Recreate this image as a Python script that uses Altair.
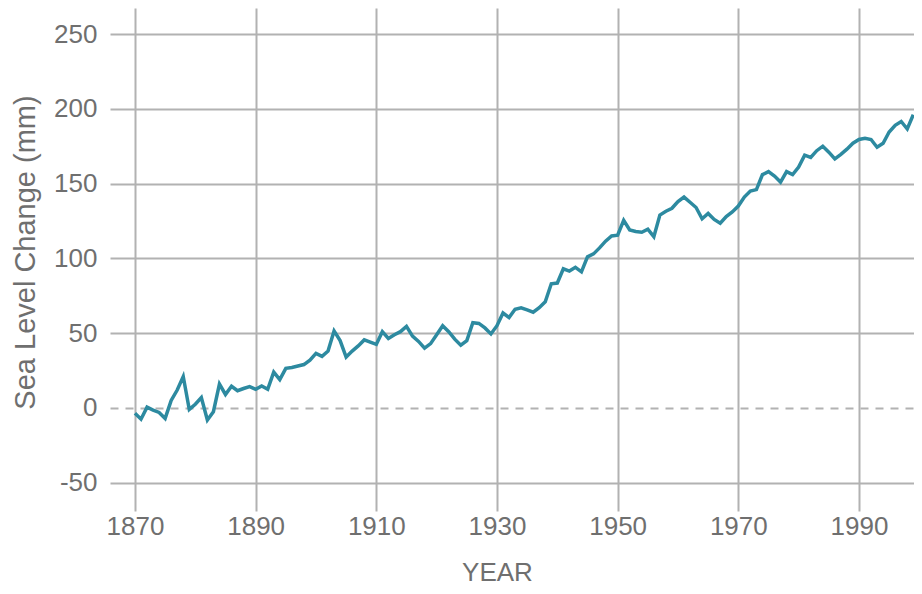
import altair as alt
import pandas as pd

years = list(range(1870, 2000))
sea_level = [
    # 1870s
    -3.5, -7.5, 0.5, -1.5, -3, -7, 5, 12, 21, -1,
    # 1880s
    2.5, 7, -8, -2.5, 16, 9, 14.5, 11.5, 13, 14.3,
    # 1890s
    12.5, 14.7, 12.5, 24, 19, 26.5, 27, 28, 29, 32,
    # 1900s
    36.5, 34.5, 38, 51.5, 45, 34, 38, 41.5, 45.5, 44,
    # 1910s
    42.5, 51, 46.5, 49, 51, 54.5, 48, 44.5, 40, 43,
    # 1920s
    49, 55, 51, 46, 42, 45, 57, 56.5, 53.5, 49.5,
    # 1930s
    55, 63.5, 60.5, 66, 67, 65.5, 64, 67, 71, 83,
    # 1940s
    83.5, 93, 91.5, 94, 91, 101, 103, 107, 111.5, 115,
    # 1950s
    115.5, 125.5, 119, 118, 117.5, 119.5, 114.5, 129, 131.5, 133.5,
    # 1960s
    138, 141, 137.5, 134, 126.5, 130, 126, 123.5, 128, 131,
    # 1970s
    135, 141, 145, 146, 156, 158, 155, 151, 158, 156,
    # 1980s
    161, 169, 167.5, 172, 175, 171, 166.5, 169.5, 173, 177,
    # 1990s
    179.5, 180.3, 179.5, 174.3, 177, 184.5, 189, 191.5, 186.5, 196,
]
x_ticks = [1870, 1890, 1910, 1930, 1950, 1970, 1990]
y_ticks = [-50, 0, 50, 100, 150, 200, 250]

df = pd.DataFrame({"year": years, "level": sea_level})

FONT = "Liberation Sans"
TXT = "#6f6f6f"
GRID = "#b2b2b2"

chart = alt.Chart(df).mark_line(color="#2d8aa0", strokeWidth=3.5).encode(
    x=alt.X(
        "year:Q",
        scale=alt.Scale(domain=[1865.86, 1999.12], nice=False, zero=False),
        axis=alt.Axis(
            values=x_ticks, labelExpr="'' + datum.value", title="YEAR", grid=True,
            gridColor=GRID, gridWidth=2, domain=False, ticks=False, labelPadding=2,
            labelFont=FONT, labelFontSize=26, labelColor=TXT,
            titleFont=FONT, titleFontSize=26, titleColor=TXT, titleFontWeight="normal",
            titleX=387, titleY=69, titleBaseline="alphabetic",
        ),
    ),
    y=alt.Y(
        "level:Q",
        scale=alt.Scale(domain=[-68.9, 267.4], nice=False, zero=False),
        axis=alt.Axis(
            values=y_ticks, labelExpr="'' + datum.value", title="Sea Level Change (mm)",
            grid=True, gridColor=GRID, gridWidth=2,
            gridDash={"condition": {"test": "datum.value === 0", "value": [8, 7]}, "value": []},
            domain=False, ticks=False, labelPadding=13,
            labelFont=FONT, labelFontSize=26, labelColor=TXT,
            titleFont=FONT, titleFontSize=29, titleColor=TXT, titleFontWeight="normal",
            titleX=-70, titleY=244,
        ),
    ),
).properties(
    width=804,
    height=503,
    autosize=alt.AutoSizeParams(type="none"),
    padding={"left": 102, "top": 0, "right": 0, "bottom": 75},
).configure_view(stroke=None)

chart.save("out.html", embed_options={"renderer": "svg", "actions": False})
